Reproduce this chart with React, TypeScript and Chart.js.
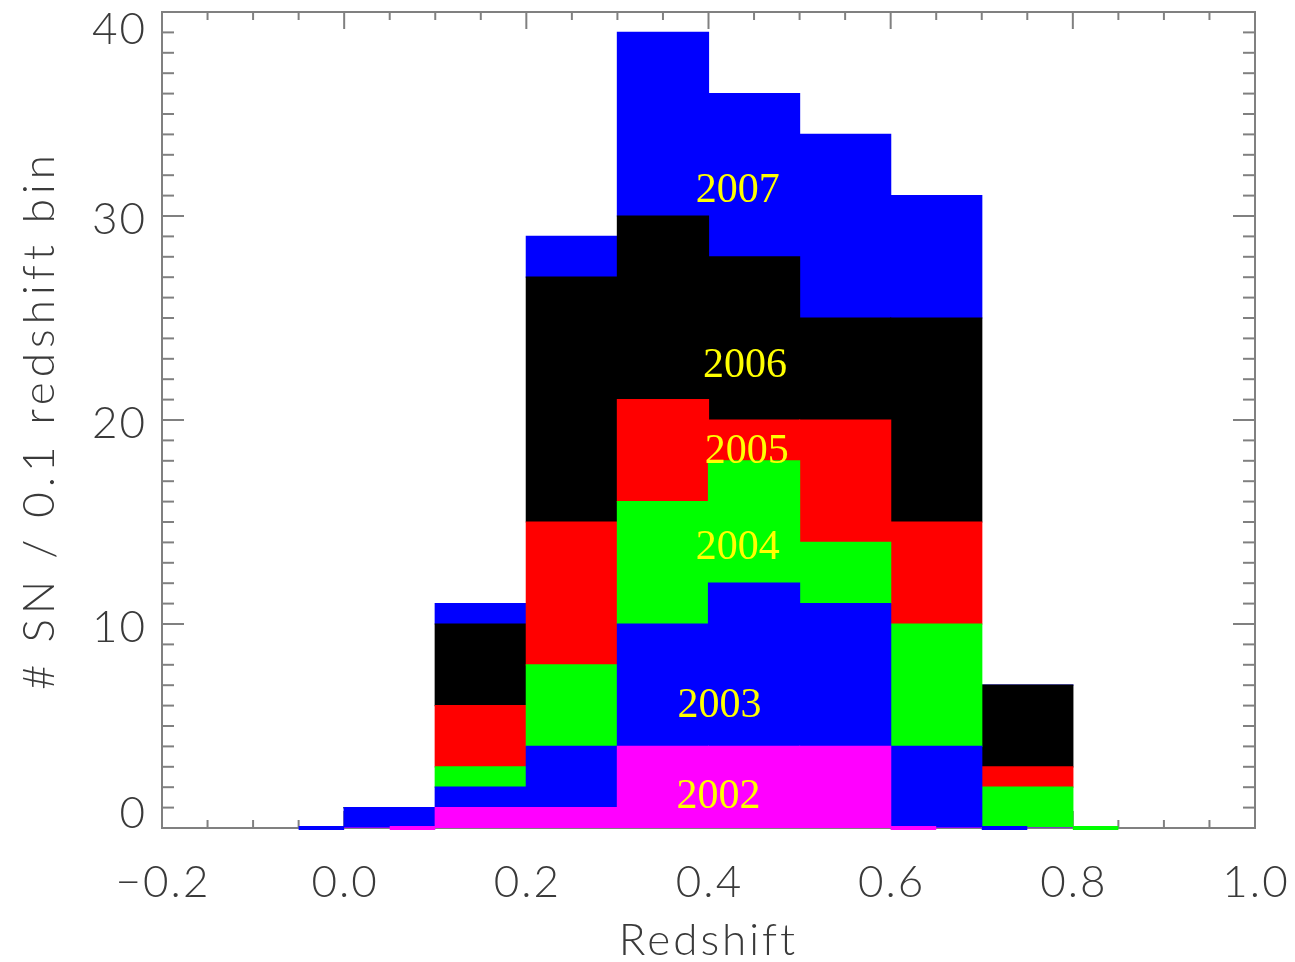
import React, { useEffect, useRef } from "react";
import { Chart, registerables } from "chart.js";

Chart.register(...registerables);

// ---- data ----
const binCenters = [0.05, 0.15, 0.25, 0.35, 0.45, 0.55, 0.65, 0.75];
const years = ["2002", "2003", "2004", "2005", "2006", "2007"];
const sn2002 = [0, 1, 1, 4, 4, 4, 0, 0];
const sn2003 = [1, 1, 3, 6, 8, 7, 4, 0];
const sn2004 = [0, 1, 4, 6, 6, 3, 6, 2];
const sn2005 = [0, 3, 7, 5, 2, 6, 5, 1];
const sn2006 = [0, 4, 12, 9, 8, 5, 10, 4];
const sn2007 = [0, 1, 2, 9, 8, 9, 6, 0];
const yearSeries = [sn2002, sn2003, sn2004, sn2005, sn2006, sn2007];
const yearColors = ["#ff00ff", "#0000ff", "#00ff00", "#ff0000", "#000000", "#0000ff"];

// zero-height histogram outline stubs along the baseline
const stubStart = [-0.05, 0.05, 0.6, 0.7, 0.8];
const stubEnd = [0.0, 0.1, 0.65, 0.75, 0.85];
const stubColors = ["#0000ff", "#ff00ff", "#ff00ff", "#0000ff", "#00ff00"];

const xTickValues = [-0.2, 0.0, 0.2, 0.4, 0.6, 0.8, 1.0];
const xTickLabels = ["\u22120.2", "0.0", "0.2", "0.4", "0.6", "0.8", "1.0"];
const xMinorStep = 0.05;
const yTickValues = [0, 10, 20, 30, 40];
const yTickLabels = ["0", "10", "20", "30", "40"];
const yMinorStep = 1;

const labelText = ["2007", "2006", "2005", "2004", "2003", "2002"];
const labelX = [0.432, 0.44, 0.442, 0.432, 0.412, 0.411];
const labelY = [30.7, 22.1, 17.9, 13.2, 5.44, 0.98];

const xTitle = "Redshift";
const yTitle = "# SN / 0.1 redshift bin";

const AXIS_FONT = '300 44px Lato, "DejaVu Sans", sans-serif';
const TEXT_COLOR = "#3a3a3a";
const AXIS_COLOR = "#808080";

const idlAxes = {
  id: "idlAxes",
  beforeDatasetsDraw(chart: any) {
    const { ctx, chartArea: a, scales } = chart;
    const x = scales.x;
    const y = scales.y;
    ctx.save();
    ctx.strokeStyle = AXIS_COLOR;
    ctx.lineWidth = 2;
    ctx.strokeRect(a.left, a.top, a.right - a.left, a.bottom - a.top);
    const line = (x1: number, y1: number, x2: number, y2: number) => {
      ctx.beginPath();
      ctx.moveTo(x1, y1);
      ctx.lineTo(x2, y2);
      ctx.stroke();
    };
    const nx = Math.round((x.max - x.min) / xMinorStep);
    for (let i = 0; i <= nx; i++) {
      const v = x.min + i * xMinorStep;
      const px = x.getPixelForValue(v);
      const major = i % 4 === 0;
      const len = major ? 17 : 8;
      line(px, a.bottom, px, a.bottom - len);
      line(px, a.top, px, a.top + len);
    }
    const ny = Math.round((y.max - y.min) / yMinorStep);
    for (let i = 0; i <= ny; i++) {
      const v = y.min + i * yMinorStep;
      const py = y.getPixelForValue(v);
      const major = i % 10 === 0;
      const len = major ? 22 : 12;
      line(a.left, py, a.left + len, py);
      line(a.right, py, a.right - len, py);
    }
    ctx.restore();
  },
  afterDatasetsDraw(chart: any) {
    const { ctx, chartArea: a, scales } = chart;
    const x = scales.x;
    const y = scales.y;
    ctx.save();
    // year labels
    ctx.fillStyle = "#ffff00";
    ctx.font = '42px "Liberation Serif", "Times New Roman", serif';
    ctx.textAlign = "center";
    ctx.textBaseline = "alphabetic";
    labelText.forEach((t, i) => {
      ctx.fillText(t, x.getPixelForValue(labelX[i]), y.getPixelForValue(labelY[i]));
    });
    // tick labels
    ctx.fillStyle = TEXT_COLOR;
    ctx.font = AXIS_FONT;
    ctx.textAlign = "center";
    (ctx as any).letterSpacing = "2px";
    xTickValues.forEach((v, i) => {
      ctx.fillText(xTickLabels[i], x.getPixelForValue(v) + 1, a.bottom + 69);
    });
    ctx.textAlign = "right";
    yTickValues.forEach((v, i) => {
      let py = y.getPixelForValue(v) + 18;
      if (i === yTickValues.length - 1) py = y.getPixelForValue(v) + 32;
      if (i === 0) py = y.getPixelForValue(v);
      ctx.fillText(yTickLabels[i], a.left - 15, py);
    });
    // titles
    ctx.textAlign = "center";
    (ctx as any).letterSpacing = "3px";
    ctx.fillText(xTitle, (a.left + a.right) / 2, a.bottom + 127);
    ctx.save();
    (ctx as any).letterSpacing = "5px";
    ctx.translate(54, (a.top + a.bottom) / 2);
    ctx.rotate(-Math.PI / 2);
    ctx.fillText(yTitle, 0, 0);
    ctx.restore();
    ctx.restore();
  },
};

export default function App() {
  const ref = useRef<HTMLCanvasElement | null>(null);
  useEffect(() => {
    if (!ref.current) return;
    const barSets = yearSeries.map((arr, k) => ({
      type: "bar" as const,
      label: years[k],
      data: binCenters.map((c, i) => ({ x: c, y: arr[i] })),
      backgroundColor: yearColors[k],
      borderWidth: 0,
      inflateAmount: 0.6,
      barPercentage: 1,
      categoryPercentage: 1,
      stack: "years",
      order: 1,
    }));
    const stubSets = stubStart.map((s, k) => ({
      type: "line" as const,
      label: "stub" + k,
      data: [
        { x: s, y: 0 },
        { x: stubEnd[k], y: 0 },
      ],
      borderColor: stubColors[k],
      borderWidth: 4,
      pointRadius: 0,
      fill: false,
      clip: false as any,
      stack: "stub" + k,
      order: 0,
    }));
    const chart = new Chart(ref.current, {
      type: "bar",
      data: { datasets: [...barSets, ...stubSets] as any },
      options: {
        animation: false,
        responsive: false,
        layout: { padding: { left: 162, right: 40, top: 12, bottom: 134 } },
        plugins: { legend: { display: false }, tooltip: { enabled: false } },
        scales: {
          x: {
            type: "linear",
            min: -0.2,
            max: 1.0,
            offset: false,
            stacked: true,
            display: false,
            ticks: { stepSize: 0.2 },
          },
          y: {
            type: "linear",
            min: 0,
            max: 40,
            stacked: true,
            display: false,
            ticks: { stepSize: 10 },
          },
        },
      },
      plugins: [idlAxes],
    });
    return () => chart.destroy();
  }, []);
  return (
    <div style={{ position: "absolute", left: 0, top: 0, width: 1295, height: 962 }}>
      <canvas ref={ref} width={1295} height={962} style={{ display: "block" }} />
    </div>
  );
}
